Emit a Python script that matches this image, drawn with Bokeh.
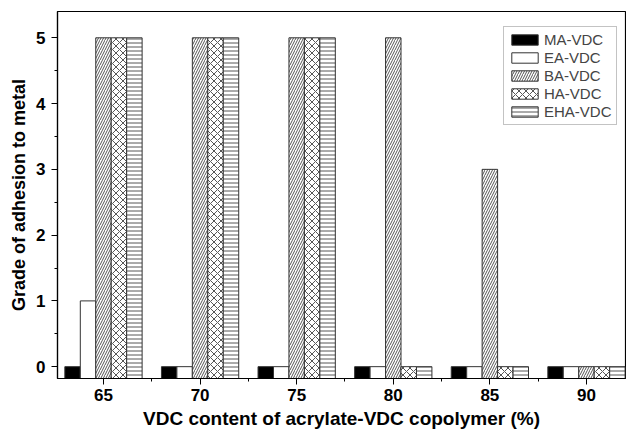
from bokeh.plotting import figure
from bokeh.models import ColumnDataSource, Legend, LegendItem, FixedTicker
from bokeh.transform import dodge
from bokeh.embed import file_html
from bokeh.resources import INLINE

# Data
vdc_content = [65, 70, 75, 80, 85, 90]
ma_vdc = [0, 0, 0, 0, 0, 0]
ea_vdc = [1, 0, 0, 0, 0, 0]
ba_vdc = [5, 5, 5, 5, 3, 0]
ha_vdc = [5, 5, 5, 0, 0, 0]
eha_vdc = [5, 5, 5, 0, 0, 0]
series_names = ["MA-VDC", "EA-VDC", "BA-VDC", "HA-VDC", "EHA-VDC"]
y_ticks = [0, 1, 2, 3, 4, 5]
x_title = "VDC content of acrylate-VDC copolymer (%)"
y_title = "Grade of adhesion to metal"

src = ColumnDataSource(dict(x=vdc_content, ma=ma_vdc, ea=ea_vdc, ba=ba_vdc,
                            ha=ha_vdc, eha=eha_vdc))

Y0 = -0.18
p = figure(width=626, height=433, output_backend="svg", toolbar_location=None,
           x_range=(62.62, 92.02), y_range=(Y0, 5.4),
           min_border_left=57, min_border_right=1, min_border_top=11,
           min_border_bottom=55)
p.background_fill_color = "white"
p.border_fill_color = "white"
p.outline_line_color = "black"
p.outline_line_width = 1.2
p.xgrid.visible = False
p.ygrid.visible = False

W = 0.8
styles = [
    dict(col="ma", fill_color="black", hatch_pattern=None),
    dict(col="ea", fill_color="white", hatch_pattern=None),
    dict(col="ba", fill_color="white", hatch_pattern="/", hatch_scale=5),
    dict(col="ha", fill_color="white", hatch_pattern="x", hatch_scale=7),
    dict(col="eha", fill_color="white", hatch_pattern="-", hatch_scale=4),
]
offsets = [-1.6, -0.8, 0.0, 0.8, 1.6]
renderers = []
for st, off in zip(styles, offsets):
    kw = dict(fill_color=st["fill_color"], line_color="#333333", line_width=1)
    if st["hatch_pattern"]:
        kw.update(hatch_pattern=st["hatch_pattern"], hatch_scale=st["hatch_scale"],
                  hatch_color="#555555", hatch_weight=1)
    r = p.vbar(x=dodge("x", off, range=p.x_range), top=st["col"], bottom=Y0,
               width=W, source=src, **kw)
    renderers.append(r)

items = [LegendItem(label=n, renderers=[r]) for n, r in zip(series_names, renderers)]
legend = Legend(items=items, location=(446, 253))
legend.margin = 0
legend.padding = 4
legend.spacing = 1
legend.glyph_height = 13
legend.glyph_width = 33
legend.label_height = 14
legend.label_standoff = 3
legend.label_text_font = "Liberation Sans"
legend.label_text_font_size = "15px"
legend.label_text_baseline = "middle"
legend.border_line_color = "#888888"
legend.border_line_width = 1
legend.background_fill_color = "white"
p.add_layout(legend)

# Axes
p.xaxis.ticker = FixedTicker(ticks=vdc_content,
                             minor_ticks=[62.5, 67.5, 72.5, 77.5, 82.5, 87.5])
p.yaxis.ticker = FixedTicker(ticks=y_ticks,
                             minor_ticks=[0.5, 1.5, 2.5, 3.5, 4.5])
for ax in (p.xaxis[0], p.yaxis[0]):
    ax.axis_line_color = "black"
    ax.axis_line_width = 1.2
    ax.major_tick_line_color = "black"
    ax.minor_tick_line_color = "black"
    ax.major_tick_out = 6
    ax.major_tick_in = 0
    ax.minor_tick_out = 3
    ax.minor_tick_in = 0
    ax.major_label_text_font = "Liberation Sans"
    ax.major_label_text_font_style = "bold"
    ax.major_label_text_font_size = "17px"
    ax.major_label_text_color = "black"
    ax.axis_label_text_font = "Liberation Sans"
    ax.axis_label_text_font_style = "bold"
    ax.axis_label_text_color = "black"

p.xaxis.axis_label = x_title
p.yaxis.axis_label = y_title
p.xaxis.axis_label_text_font_size = "19px"
p.yaxis.axis_label_text_font_size = "18px"
p.xaxis.major_label_standoff = 4
p.yaxis.major_label_standoff = 6
p.xaxis.axis_label_standoff = 4
p.yaxis.axis_label_standoff = 4

open("out.html", "w").write(file_html(p, INLINE))
